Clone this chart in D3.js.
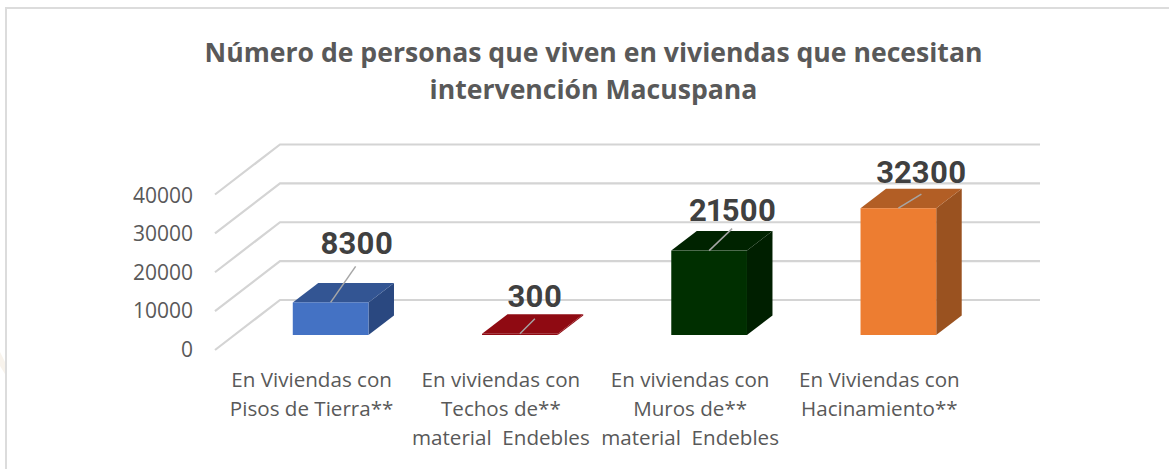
<!DOCTYPE html>
<html><head><meta charset="utf-8">
<script src="https://cdn.jsdelivr.net/npm/d3@7"></script>
<style>html,body{margin:0;background:#fff}svg{display:block}</style></head>
<body><svg id="c" width="1169" height="469"></svg>
<script>
const categories = ["En Viviendas con|Pisos de Tierra**","En viviendas con|Techos de**|material  Endebles","En viviendas con|Muros de**|material  Endebles","En Viviendas con|Hacinamiento**"];
const values = [8300,300,21500,32300];
const yTicks = [0,10000,20000,30000,40000];
const titleLines = ["Número de personas que viven en viviendas que necesitan","intervención Macuspana"];
const frontColors = ["#4472c4","#8f0a12","#002f00","#ed7d31"];
const topColors = ["#335593","#8f0a12","#002300","#b25e25"];
const sideColors = ["#2a4880","#8f0a12","#001f00","#9a5220"];

const svg = d3.select("#c");
// faint watermark remnant and frame
svg.append("path").attr("d","M0,352L5,362V374L0,366Z").attr("fill","#f8f3ec");
svg.append("path").attr("d","M6,469V8H1169").attr("fill","none").attr("stroke","#dcdcdc").attr("stroke-width",2);
// titles
svg.selectAll("text.title").data(titleLines).join("text").attr("class","title")
 .attr("x",593.5).attr("y",(d,i)=>62+i*37).attr("text-anchor","middle")
 .attr("font-family","'Open Sans'").attr("font-weight",700).attr("font-size",26.6).attr("fill","#595959").text(d=>d);

const depth={x:65,y:-50};
const y=d3.scaleLinear().domain([0,40000]).range([350,194.5]);
const barY=d3.scaleLinear().domain([0,40000]).range([335,178]);
const labelY=d3.scaleLinear().domain([0,40000]).range([357,202.5]);
const x=d3.scaleBand().domain(categories).range([236,993]).paddingInner(0.6).paddingOuter(0.3);
const bd={x:25.5,y:-19.5};

// gridlines
const g=svg.append("g").attr("fill","none").attr("stroke","#d4d4d4").attr("stroke-width",2.2);
g.selectAll("path").data(yTicks).join("path")
 .attr("d",d=>`M215,${y(d)}L${215+depth.x},${y(d)+depth.y}H1040`);

// y labels
svg.selectAll("text.yl").data(yTicks).join("text").attr("class","yl")
 .attr("x",193).attr("y",d=>labelY(d)).attr("text-anchor","end")
 .attr("font-family","'Open Sans'").attr("font-size",21).attr("fill","#595959").text(d=>d);

// bars
const bars=svg.selectAll("g.bar").data(values).join("g").attr("class","bar");
bars.each(function(v,i){
  const s=d3.select(this),x0=x(categories[i]),w=x.bandwidth(),b=barY(0),t=barY(v);
  s.append("path").attr("fill",sideColors[i]).attr("d",`M${x0+w},${t}L${x0+w+bd.x},${t+bd.y}V${b+bd.y}L${x0+w},${b}Z`);
  s.append("path").attr("fill",topColors[i]).attr("d",`M${x0},${t}L${x0+bd.x},${t+bd.y}H${x0+w+bd.x}L${x0+w},${t}Z`);
  s.append("rect").attr("x",x0).attr("y",t).attr("width",w).attr("height",Math.max(b-t,1)).attr("fill",frontColors[i]);
});
// leader lines and labels
const leaderEnd=[[25,-36],[15,-15],[23,-22],[23,-14]];
const labelOff=[[26,-48],[15,-27],[23,-30],[23,-25]];
values.forEach((v,i)=>{
  const cx=x(categories[i])+x.bandwidth()/2,t=barY(v);
  svg.append("line").attr("x1",cx).attr("y1",t).attr("x2",cx+leaderEnd[i][0]).attr("y2",t+leaderEnd[i][1])
   .attr("stroke","#a6a6a6").attr("stroke-width",1.5);
  svg.append("text").attr("x",cx+labelOff[i][0]+(i===2?0.5:0)).attr("y",t+labelOff[i][1]).attr("text-anchor","middle")
   .style("font-variant-numeric","proportional-nums")
   .attr("font-family","Roboto").attr("font-weight",700).attr("font-size",31).attr("fill","#404040").text(v);
});
// category labels
categories.forEach((c,i)=>{
  c.split("|").forEach((l,j)=>{
    svg.append("text").attr("x",x(c)+x.bandwidth()/2-19).attr("y",387+j*29.2).attr("text-anchor","middle")
     .style("white-space","pre")
     .attr("font-family","'Open Sans'").attr("font-size",20.6).attr("fill","#595959").text(l);
  });
});
</script></body></html>
